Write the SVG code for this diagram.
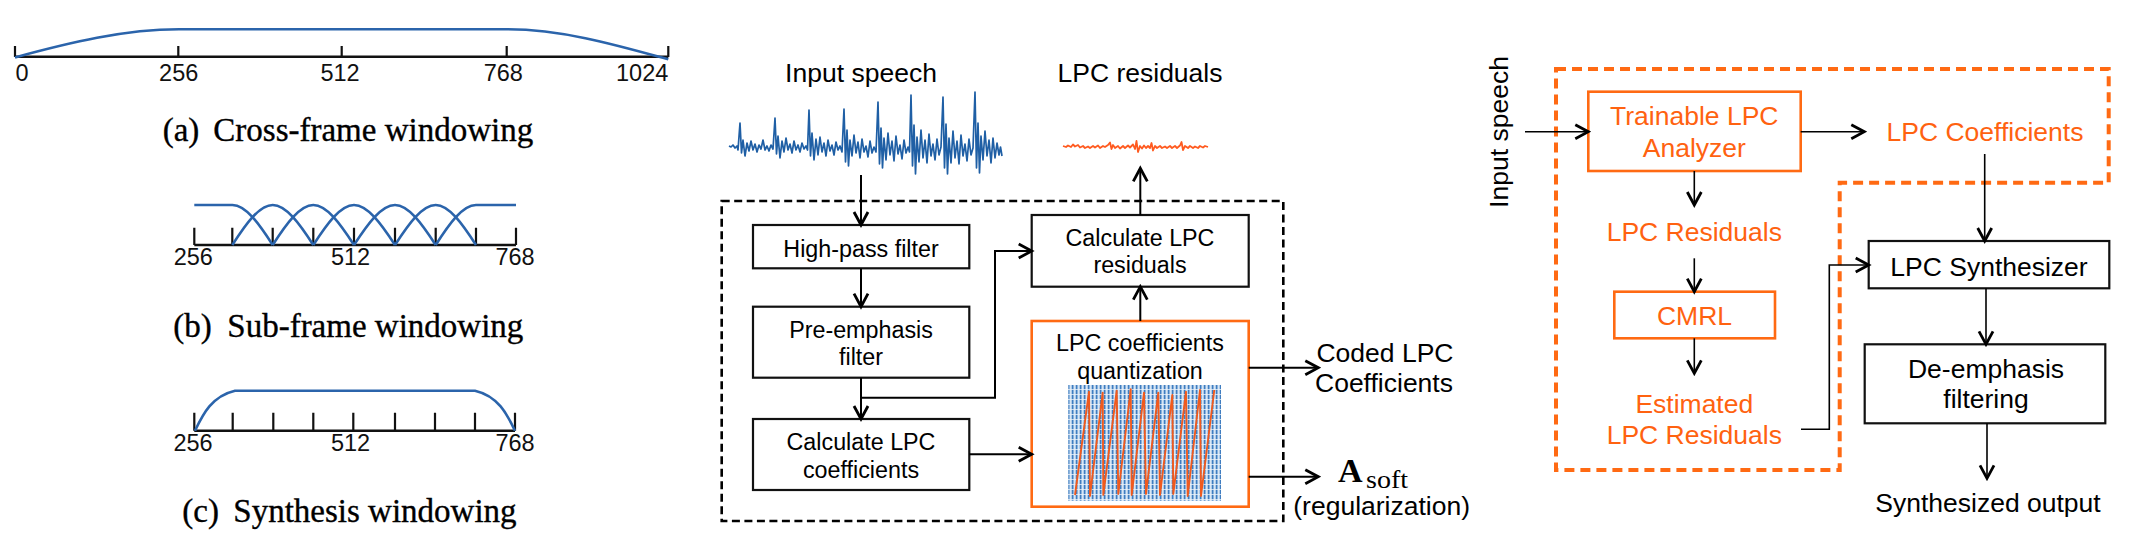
<svg xmlns="http://www.w3.org/2000/svg" width="2147" height="545" viewBox="0 0 2147 545">
<defs>
<style>
.sans{font-family:"Liberation Sans",Arial,sans-serif;}
.serif{font-family:"Liberation Serif","Times New Roman",serif;}
.ax{font-family:"Liberation Sans",Arial,sans-serif;font-size:23.5px;fill:#111;}
.cap{font-family:"Liberation Serif","Times New Roman",serif;font-size:33px;fill:#000;stroke:#000;stroke-width:0.35;}
.bt{font-family:"Liberation Sans",Arial,sans-serif;font-size:23.3px;fill:#000;text-anchor:middle;}
.lt{font-family:"Liberation Sans",Arial,sans-serif;font-size:26.5px;fill:#000;}
.ot{font-family:"Liberation Sans",Arial,sans-serif;font-size:26.5px;fill:#ff6210;text-anchor:middle;}
.mid{text-anchor:middle;}
.axis{stroke:#111;stroke-width:2.6;fill:none;}
.tick{stroke:#111;stroke-width:2.2;fill:none;}
.win{stroke:#2b64ab;stroke-width:2.6;fill:none;stroke-linejoin:round;}
.box{fill:#fff;stroke:#111;stroke-width:2.2;}
.obox{fill:#fff;stroke:#ff6a13;stroke-width:2.6;}
.conn{stroke:#000;stroke-width:2;fill:none;}
.conn2{stroke:#000;stroke-width:1.6;fill:none;}
</style>
<marker id="ah" viewBox="0 0 18 18" refX="15" refY="9" markerWidth="18" markerHeight="18" markerUnits="userSpaceOnUse" orient="auto">
<path d="M2,2 L15,9 L2,16" fill="none" stroke="#000" stroke-width="2.8" stroke-linejoin="miter"/>
</marker>
<pattern id="grid" width="4" height="5" patternUnits="userSpaceOnUse">
<rect width="4" height="5" fill="#9dbfe3"/>
<rect x="0" y="0" width="1.2" height="5" fill="#3f7dc0"/>
<rect x="2.3" y="0" width="0.9" height="5" fill="#f2f7fc"/>
<rect x="0" y="4" width="4" height="0.9" fill="#eef4fb" opacity="0.85"/>
</pattern>
</defs>
<rect width="2147" height="545" fill="#fff"/>

<!-- (a) cross-frame windowing -->
<g id="window-a">
<line class="axis" x1="15" y1="56.7" x2="668.3" y2="56.7"/>
<path class="tick" d="M15,46V57 M178.3,46V57 M341.7,46V57 M506.7,46V57 M668.3,46V57"/>
<path class="win" d="M15,57.4 C69.7,42.5 124.3,29.3 179,29.3 L506.7,29.3 C561.4,29.3 613.7,44.2 668.3,59.3"/>
<text class="ax" x="15.6" y="80.7">0</text>
<text class="ax mid" x="178.7" y="80.7">256</text>
<text class="ax mid" x="340" y="80.7">512</text>
<text class="ax mid" x="503.3" y="80.7">768</text>
<text class="ax" x="668.3" y="80.7" text-anchor="end">1024</text>
<text class="cap" x="162.7" y="140.7">(a)</text>
<text class="cap" x="213.3" y="140.7">Cross-frame windowing</text>
</g>

<!-- (b) sub-frame windowing -->
<g id="window-b">
<line class="axis" x1="194.3" y1="245" x2="516" y2="245"/>
<path class="tick" d="M194.3,227.7V245 M232.3,227.7V245 M272.7,227.7V245 M313.3,227.7V245 M354,227.7V245 M395,227.7V245 M435.7,227.7V245 M476,227.7V245 M516,227.7V245"/>
<path class="win" d="M194.3,205 L232.5,205 C245.8,205 259.2,224.1 272.7,245"/>
<path class="win" d="M232.3,245 C245.8,224.1 259.2,205 272.7,205 C286.2,205 299.8,224.1 313.3,245"/>
<path class="win" d="M272.7,245 C286.2,224.1 299.8,205 313.3,205 C326.9,205 340.4,224.1 354,245"/>
<path class="win" d="M313.3,245 C326.9,224.1 340.4,205 354,205 C367.7,205 381.3,224.1 395,245"/>
<path class="win" d="M354,245 C367.7,224.1 381.3,205 395,205 C408.6,205 422.1,224.1 435.7,245"/>
<path class="win" d="M395,245 C408.6,224.1 422.1,205 435.7,205 C449.1,205 462.5,224.1 476,245"/>
<path class="win" d="M435.7,245 C449.1,224.1 462.5,205 476,205 L516,205"/>
<text class="ax mid" x="193.3" y="265">256</text>
<text class="ax mid" x="350.5" y="265">512</text>
<text class="ax mid" x="515" y="265">768</text>
<text class="cap" x="173.3" y="336.7">(b)</text>
<text class="cap" x="227.3" y="336.7">Sub-frame windowing</text>
</g>

<!-- (c) synthesis windowing -->
<g id="window-c">
<line class="axis" x1="194.3" y1="430.7" x2="515" y2="430.7"/>
<path class="tick" d="M194.3,412.7V430.7 M232.7,412.7V430.7 M273.3,412.7V430.7 M313.3,412.7V430.7 M353.3,412.7V430.7 M395,412.7V430.7 M435,412.7V430.7 M475,412.7V430.7 M515,412.7V430.7"/>
<path class="win" d="M195,430.7 C203,414 212,396 235,390.7 L475,390.7 C498,396 507,414 515,430.7"/>
<text class="ax mid" x="193" y="450.7">256</text>
<text class="ax mid" x="350.5" y="450.7">512</text>
<text class="ax mid" x="515" y="450.7">768</text>
<text class="cap" x="182.3" y="521.7">(c)</text>
<text class="cap" x="233.3" y="521.7">Synthesis windowing</text>
</g>

<!-- middle panel -->
<g id="encoder-frame">
<rect x="721.7" y="201" width="561.6" height="320" fill="none" stroke="#000" stroke-width="2.6" stroke-dasharray="8 4.5"/>
</g>
<g id="input-speech">
<text class="lt mid" x="861" y="81.7">Input speech</text>
<path fill="none" stroke="#1f5fa5" stroke-width="1.7" stroke-linejoin="round" d="M729,146 L731,147 733,145 735,148 737,146 738,150 740,123 741.5,153 743,140 745,156 747,143 749,151 751,141 753,150 755,144 757,152 759,145 761,149 763,140 765,150 767,146 769,151 771,145 773,149 775,118 776.5,154 778,136 780,158 782,141 784,152 786,138 788,150 790,144 792,153 794,141 796,150 798,145 800,152 802,143 804,149 806,146 807.5,150 809,110 810.5,156 812,133 814,160 816,139 818,155 820,137 822,152 824,143 826,156 828,140 830,151 832,145 834,155 836,142 838,150 840,146 842,152 844,109 845.5,162 847,130 848.5,166 850,140 852,156 854,135 856,153 858,142 860,158 862,139 864,152 866,146 868,157 870,141 872,153 874,147 876,152 878,102 879.5,164 881,128 882.5,168 884,138 886,160 888,133 890,155 892,141 894,161 896,136 898,154 900,145 902,159 904,140 906,153 908,147 909.5,152 911,95 912.5,166 914,125 915.5,174 917,137 919,162 921,130 923,158 925,140 927,163 929,134 931,156 933,144 935,160 937,139 939,155 941,147 943,97 944.5,168 946,124 947.5,174 949,138 951,163 953,131 955,158 957,141 959,164 961,135 963,156 965,144 967,161 969,139 971,155 973,148 975,92 976.5,168 978,123 979.5,173 981,136 983,160 985,131 987,156 989,140 991,163 993,138 995,158 997,143 999,155 1000.5,147 1002,156"/>
</g>
<g id="lpc-residuals-out">
<text class="lt mid" x="1140" y="82">LPC residuals</text>
<path fill="none" stroke="#ff5a1f" stroke-width="1.8" stroke-linejoin="round" d="M1063,146 L1066,147 1068,145.5 1071,147 1073,144.5 1075,146.5 1078,145 1080,147.5 1083,146 1085,148 1088,146.5 1090,148 1093,146 1095,147.5 1098,145.5 1100,148 1103,146 1105,147 1108,145 1110,142.5 1111.5,149 1113,145 1115,148 1118,146 1120,148.5 1123,146 1125,148 1128,145.5 1130,147.5 1133,144.5 1135,149 1136.5,141 1138,152 1140,146 1142,148.5 1144,145.5 1146,148 1148,146 1150,148 1151.5,143 1153,150.5 1155,146 1157,148 1160,146 1162,148 1165,146.5 1167,148 1170,146 1172,148 1175,146 1177,148 1180,145.5 1181.5,142 1183,150 1185,146 1188,148 1190,146 1193,148 1195,146.5 1198,148 1200,146 1203,147.5 1205,146 1208,147"/>
</g>
<g id="high-pass">
<rect class="box" x="753" y="225" width="216.3" height="43.3"/>
<text class="bt" x="861" y="256.7">High-pass filter</text>
</g>
<g id="pre-emphasis">
<rect class="box" x="753" y="306.7" width="216.3" height="71"/>
<text class="bt" x="861" y="338.3">Pre-emphasis</text>
<text class="bt" x="861" y="365">filter</text>
</g>
<g id="calc-coeff">
<rect class="box" x="753" y="419" width="216.3" height="71"/>
<text class="bt" x="861" y="450">Calculate LPC</text>
<text class="bt" x="861" y="477.7">coefficients</text>
</g>
<g id="calc-residuals">
<rect class="box" x="1031.7" y="215" width="217" height="71.7"/>
<text class="bt" x="1140" y="246">Calculate LPC</text>
<text class="bt" x="1140" y="273.3">residuals</text>
</g>
<g id="quantization">
<rect class="obox" x="1031.7" y="321" width="217" height="185.7"/>
<text class="bt" x="1140" y="351">LPC coefficients</text>
<text class="bt" x="1140" y="379">quantization</text>
<rect x="1068.3" y="385" width="152.7" height="115.7" fill="url(#grid)"/>
<path fill="none" stroke="#f05a1e" stroke-width="1.9" stroke-linejoin="round" d="M1075,495 L1089,391.7 1090,496 1102.7,392.7 1103.3,495 1116.7,390.7 1118.3,494 1130.7,389.3 1131.7,495 1144,392.7 1146,494 1158.3,392.7 1160,495 1172.3,395 1173.3,494 1186,391.7 1187.7,496 1200,390 1201,496 1214.3,390"/>
</g>
<g id="coded-lpc">
<text class="lt mid" x="1385" y="361.7" font-size="27">Coded LPC</text>
<text class="lt mid" x="1384" y="391.7" font-size="27">Coefficients</text>
</g>
<g id="a-soft">
<text class="serif" x="1338" y="481.7" font-size="34" font-weight="bold">A</text>
<text class="serif" x="1366" y="487.7" font-size="26" textLength="42" lengthAdjust="spacingAndGlyphs">soft</text>
<text class="lt" x="1293.3" y="515" font-size="27">(regularization)</text>
</g>

<!-- right panel -->
<g id="trainable-frame">
<path d="M1556,69 L2108.7,69 L2108.7,182.7 L1839.7,182.7 L1839.7,470 L1556,470 Z" fill="none" stroke="#ff6a13" stroke-width="4" stroke-dasharray="10 6"/>
</g>
<g id="input-speech-r">
<text class="lt mid" transform="translate(1508,132) rotate(-90)">Input speech</text>
</g>
<g id="trainable-analyzer">
<rect class="obox" x="1588.3" y="91.7" width="212.4" height="79.3"/>
<text class="ot" x="1694.3" y="125">Trainable LPC</text>
<text class="ot" x="1694.3" y="156.7">Analyzer</text>
</g>
<g id="lpc-coefficients">
<text class="ot" x="1985" y="140.7">LPC Coefficients</text>
</g>
<g id="lpc-residuals">
<text class="ot" x="1694.3" y="241">LPC Residuals</text>
</g>
<g id="cmrl">
<rect class="obox" x="1614.3" y="291.7" width="160.7" height="46.6"/>
<text class="ot" x="1694.5" y="325">CMRL</text>
</g>
<g id="estimated-residuals">
<text class="ot" x="1694.3" y="413.3">Estimated</text>
<text class="ot" x="1694.3" y="444.3">LPC Residuals</text>
</g>
<g id="lpc-synth">
<rect class="box" x="1868.7" y="241" width="240.6" height="47.3"/>
<text class="lt mid" x="1989" y="275.7">LPC Synthesizer</text>
</g>
<g id="de-emphasis">
<rect class="box" x="1864.7" y="344.3" width="240.6" height="79"/>
<text class="lt mid" x="1986" y="378.3">De-emphasis</text>
<text class="lt mid" x="1986" y="408.3">filtering</text>
</g>
<g id="synth-output">
<text class="lt mid" x="1988" y="511.7">Synthesized output</text>
</g>

<g id="connectors">
<path class="conn" marker-end="url(#ah)" d="M861,175 V225"/>
<path class="conn" marker-end="url(#ah)" d="M861,268.3 V306.7"/>
<path class="conn" marker-end="url(#ah)" d="M861,377.7 V419"/>
<path class="conn" marker-end="url(#ah)" d="M861,397.7 H995 V251 H1031.7"/>
<path class="conn" marker-end="url(#ah)" d="M969.3,454.3 H1031.7"/>
<path class="conn" marker-end="url(#ah)" d="M1140.3,321 V286.7"/>
<path class="conn" marker-end="url(#ah)" d="M1140.3,215 V168.3"/>
<path class="conn" marker-end="url(#ah)" d="M1248.7,367.7 H1318.3"/>
<path class="conn" marker-end="url(#ah)" d="M1248.7,476.7 H1318.3"/>
<path class="conn2" marker-end="url(#ah)" d="M1525,131.7 H1588.3"/>
<path class="conn2" marker-end="url(#ah)" d="M1800.7,131.7 H1864.3"/>
<path class="conn2" marker-end="url(#ah)" d="M1694.3,171 V205"/>
<path class="conn2" marker-end="url(#ah)" d="M1694.3,258.3 V291.7"/>
<path class="conn2" marker-end="url(#ah)" d="M1694.3,338.3 V373.3"/>
<path class="conn2" marker-end="url(#ah)" d="M1801,429.3 H1829.3 V265 H1868.7"/>
<path class="conn2" marker-end="url(#ah)" d="M1984.7,154 V241"/>
<path class="conn2" marker-end="url(#ah)" d="M1986,288.3 V344.3"/>
<path class="conn2" marker-end="url(#ah)" d="M1987,423.3 V478.3"/>
</g>
</svg>
